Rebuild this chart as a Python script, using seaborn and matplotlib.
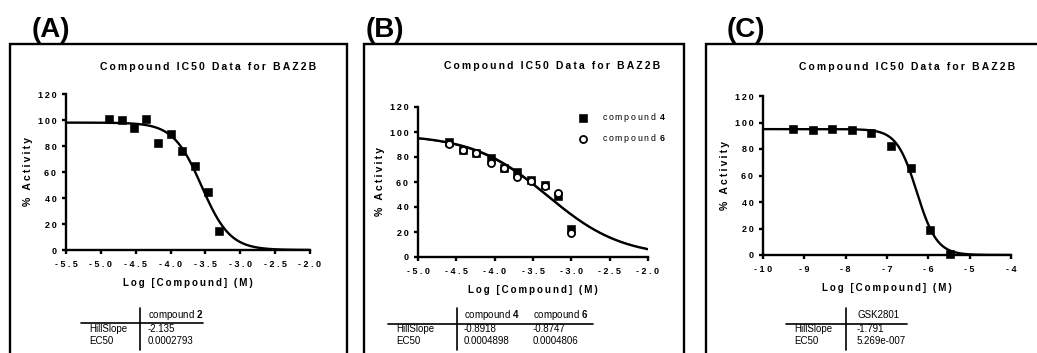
import numpy as np
import pandas as pd
import matplotlib
matplotlib.use("Agg")
import matplotlib.pyplot as plt
import seaborn as sns
from matplotlib.patches import Rectangle
from matplotlib.lines import Line2D

#----------------
# Daten (Panel A)
#----------------
a_logx = [-4.88, -4.70, -4.52, -4.35, -4.18, -4.00, -3.83, -3.65, -3.47, -3.30]
a_act = [100.5, 100.0, 93.5, 100.5, 82.0, 89.0, 76.0, 65.0, 44.5, 14.5]
a_fit = {"top": 98.0, "bottom": 0.0, "hill": -2.135, "ec50": 0.0002793}

#----------------
# Daten (Panel B)
#----------------
b_logx = [-4.59, -4.41, -4.24, -4.05, -3.88, -3.71, -3.53, -3.35, -3.18, -3.00]
b_c4 = [92.0, 85.5, 83.5, 79.0, 71.0, 68.0, 61.5, 58.0, 48.5, 22.5]
b_c6 = [90.5, 86.0, 83.0, 75.0, 71.5, 64.0, 61.0, 57.0, 51.0, 19.5]
b_fit4 = {"top": 98.0, "bottom": 0.0, "hill": -0.8918, "ec50": 0.0004898}
b_fit6 = {"top": 98.0, "bottom": 0.0, "hill": -0.8747, "ec50": 0.0004806}

#----------------
# Daten (Panel C)
#----------------
c_logx = [-9.27, -8.80, -8.33, -7.85, -7.38, -6.91, -6.43, -5.96, -5.48]
c_act = [95.0, 94.5, 95.0, 94.0, 92.0, 82.0, 65.5, 18.5, 0.5]
c_fit = {"top": 95.0, "bottom": 0.0, "hill": -1.791, "ec50": 5.269e-7}

W, H = 1037, 353
TS = "\u2009"  # schmales Leerzeichen fuer die Sperrschrift

sns.set_theme(style="white")
plt.rcParams["font.family"] = ["Liberation Sans", "DejaVu Sans"]
plt.rcParams["mathtext.fontset"] = "custom"
plt.rcParams["mathtext.rm"] = "Liberation Sans"
plt.rcParams["mathtext.bf"] = "Liberation Sans:bold"
plt.rcParams["text.color"] = "black"
plt.rcParams["axes.labelcolor"] = "black"


def px(x, y):
    # Pixel -> Figurkoordinaten
    return x / W, 1 - y / H


def spaced(s, sep=TS):
    return sep.join(s)


def kurve(fit, x0, x1):
    # 4PL-Kurve aus den angezeigten Fit-Parametern
    x = np.linspace(x0, x1, 300)
    y = fit["bottom"] + (fit["top"] - fit["bottom"]) / (
        1 + 10 ** ((np.log10(fit["ec50"]) - x) * fit["hill"]))
    return pd.DataFrame({"x": x, "y": y})


fig = plt.figure(figsize=(W / 100, H / 100), dpi=100)


def make_ax(l, t, r, b, xlim, xticks, fmt):
    x0, y1 = px(l, t)
    x1, y0 = px(r, b)
    ax = fig.add_axes([x0, y0, x1 - x0, y1 - y0])
    ax.set_xlim(*xlim)
    ax.set_ylim(0, 120)
    ax.set_xticks(xticks)
    ax.set_yticks(range(0, 121, 20))
    ax.set_xticklabels([spaced(fmt.format(v), " ") for v in xticks])
    ax.set_yticklabels([spaced(str(v), TS) for v in range(0, 121, 20)])
    for lab in ax.get_xticklabels() + ax.get_yticklabels():
        lab.set_fontsize(6.5)
        lab.set_fontweight("bold")
    sns.despine(ax=ax)
    for sp in ["left", "bottom"]:
        ax.spines[sp].set_linewidth(1.7)
        ax.spines[sp].set_color("black")
    ax.tick_params(direction="out", length=3, width=1.7, colors="black", pad=4,
                   bottom=True, left=True)
    ax.patch.set_alpha(0)
    return ax


def achsentitel(ax):
    ax.set_xlabel(spaced("Log [Compound] (M)"), fontsize=7, fontweight="bold", labelpad=7)
    ax.set_ylabel(spaced("% Activity"), fontsize=7.5, fontweight="bold", labelpad=3)


def box(l, r):
    x0, y0 = px(l, 360)
    x1, y1 = px(r, 44)
    fig.add_artist(Rectangle((x0, y0), x1 - x0, y1 - y0, transform=fig.transFigure,
                             fill=False, edgecolor="black", linewidth=1.7, clip_on=False))


def tabelle(vx, hx0, hx1, hy, cols, rows, col_x):
    fig.add_artist(Line2D([px(vx, 0)[0]] * 2, [px(0, 308)[1], px(0, 350)[1]],
                          transform=fig.transFigure, color="black", lw=1.2))
    fig.add_artist(Line2D([px(hx0, 0)[0], px(hx1, 0)[0]], [px(0, hy)[1]] * 2,
                          transform=fig.transFigure, color="black", lw=1.2))
    for name, cx in zip(cols, col_x):
        fig.text(*px(cx, 318), name, fontsize=7, va="baseline", ha="left")
    for i, (rname, vals) in enumerate(rows):
        y = 332 + i * 12.5
        fig.text(*px(hx0 + 8, y), rname, fontsize=7, va="baseline", ha="left")
        for v, cx in zip(vals, col_x):
            fig.text(*px(cx, y), v, fontsize=7, va="baseline", ha="left")


titel = spaced("Compound IC50 Data for BAZ2B")

#--------
# Panel A
#--------
box(10, 347)
fig.text(*px(32, 30), "(A)", fontsize=20, fontweight="bold", va="center", ha="left")
ax = make_ax(66, 94, 310, 250, (-5.5, -2.0), np.arange(-5.5, -1.99, 0.5), "{:.1f}")
sns.lineplot(data=kurve(a_fit, -5.5, -2.0), x="x", y="y", ax=ax, color="black", lw=1.7)
sns.scatterplot(x=a_logx, y=a_act, ax=ax, marker="s", s=30, color="black",
                edgecolor="black", zorder=3, clip_on=False)
achsentitel(ax)
fig.text(*px(208, 67), titel, fontsize=7.5, fontweight="bold", ha="center", va="center")
tabelle(140, 81, 203, 322.5, [r"compound $\mathbf{2}$"],
        [("HillSlope", ["-2.135"]), ("EC50", ["0.0002793"])], [148])

#--------
# Panel B
#--------
box(364, 684)
fig.text(*px(366, 30), "(B)", fontsize=20, fontweight="bold", va="center", ha="left")
ax = make_ax(418, 107, 648, 257, (-5.0, -2.0), np.arange(-5.0, -1.99, 0.5), "{:.1f}")
sns.lineplot(data=kurve(b_fit4, -5.0, -2.0), x="x", y="y", ax=ax, color="black", lw=1.7)
sns.lineplot(data=kurve(b_fit6, -5.0, -2.0), x="x", y="y", ax=ax, color="black", lw=1.0)
sns.scatterplot(x=b_logx, y=b_c4, ax=ax, marker="s", s=30, color="black",
                edgecolor="black", zorder=3, label=spaced("compound") + r"  $\mathbf{4}$")
sns.scatterplot(x=b_logx, y=b_c6, ax=ax, marker="o", s=26, facecolor="white",
                edgecolor="black", linewidth=1.3, zorder=4,
                label=spaced("compound") + r"  $\mathbf{6}$")
achsentitel(ax)
ax.legend(loc="upper left", bbox_to_anchor=px(579, 111), bbox_transform=fig.transFigure,
          frameon=False, fontsize=6.3, handlelength=0.8, handletextpad=1.8,
          labelspacing=0.9, borderpad=0, borderaxespad=0)
fig.text(*px(552, 66), titel, fontsize=7.5, fontweight="bold", ha="center", va="center")
tabelle(457, 388, 593, 323.5, [r"compound $\mathbf{4}$", r"compound $\mathbf{6}$"],
        [("HillSlope", ["-0.8918", "-0.8747"]), ("EC50", ["0.0004898", "0.0004806"])],
        [464, 533])

#--------
# Panel C
#--------
box(706, 1045)
fig.text(*px(727, 30), "(C)", fontsize=20, fontweight="bold", va="center", ha="left")
ax = make_ax(763, 96, 1011, 255, (-10, -4), np.arange(-10, -3.9, 1), "{:.0f}")
sns.lineplot(data=kurve(c_fit, -10, -4), x="x", y="y", ax=ax, color="black", lw=1.7)
sns.scatterplot(x=c_logx, y=c_act, ax=ax, marker="s", s=30, color="black",
                edgecolor="black", zorder=3, clip_on=False)
achsentitel(ax)
fig.text(*px(907, 67), titel, fontsize=7.5, fontweight="bold", ha="center", va="center")
tabelle(846, 786, 907, 324, ["GSK2801"],
        [("HillSlope", ["-1.791"]), ("EC50", ["5.269e-007"])], [857])

fig.savefig("out.png", dpi=100)
